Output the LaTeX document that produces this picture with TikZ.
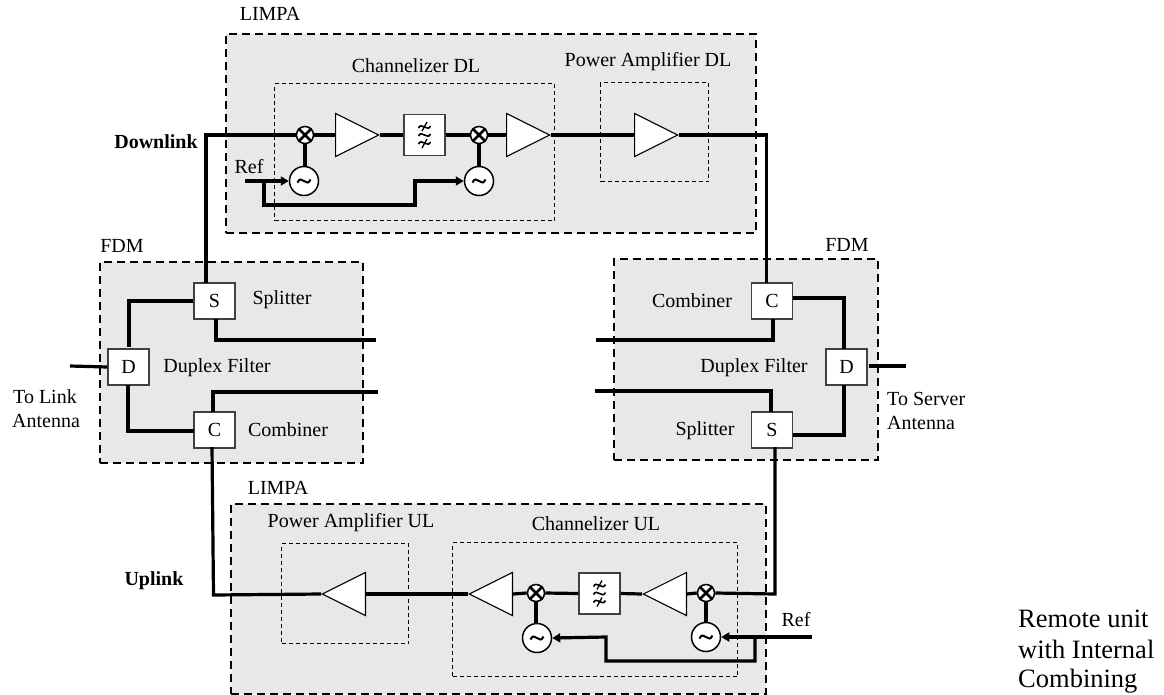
\documentclass[tikz,border=0pt]{standalone}
\usepackage{fontspec}
\setmainfont{Liberation Serif}
\usetikzlibrary{shapes.geometric,arrows.meta}
\tikzset{
  x=1pt,y=-1pt,
  lbl/.style={font=\fontsize{20}{22}\selectfont,inner sep=0,text=black},
  boldlbl/.style={font=\fontsize{20}{22}\selectfont\bfseries,inner sep=0},
  biglbl/.style={font=\fontsize{26.5}{28}\selectfont,inner sep=0,anchor=west},
  outerbox/.style={draw=black,fill=black!9,line width=2pt,dash pattern=on 8pt off 5pt,inner sep=0,anchor=north west},
  innerbox/.style={draw=black,line width=1.1pt,dash pattern=on 4pt off 3pt,inner sep=0,anchor=north west},
  blockbox/.style={draw=black!75,fill=white,line width=1.1pt,minimum width=41pt,minimum height=36pt,inner sep=0,font=\fontsize{20}{22}\selectfont},
  filterbox/.style={draw=black!75,fill=white,line width=1.1pt,minimum width=41pt,minimum height=41pt,inner sep=0},
  amp/.style={isosceles triangle,isosceles triangle stretches,draw=black,fill=white,line width=1.1pt,minimum width=43pt,minimum height=43pt,inner sep=0,anchor=lower side},
  ampl/.style={amp,shape border rotate=180},
  mixer/.style={circle,draw=black,fill=white,line width=1.5pt,minimum size=17pt,inner sep=0},
  osc/.style={circle,draw=black,fill=white,line width=1.5pt,minimum size=29pt,inner sep=0},
  wire/.style={draw=black,line width=3.2pt,line join=miter},
  awire/.style={wire,-{Triangle[length=8pt,width=9pt]}},
}
\newcommand{\xcross}[1]{\draw[line width=2.6pt] (#1.45) -- (#1.225) (#1.135) -- (#1.315);}
\newcommand{\tildeat}[1]{\draw[line width=2pt] ([xshift=-6.5pt,yshift=-1.5pt]#1.center) .. controls +(2.5,-5) and +(-3,-1) .. (#1.center) .. controls +(3,1) and +(-2.5,5) .. ([xshift=6.5pt,yshift=1.5pt]#1.center);}
\newcommand{\filtersym}[1]{%
  \foreach \dy in {-8,0,8}{%
    \draw[line width=1.6pt] ([xshift=-6pt,yshift=\dy pt-1pt]#1.center) .. controls +(2,-3.5) and +(-3,-1) .. ([yshift=\dy pt]#1.center) .. controls +(3,1) and +(-2,3.5) .. ([xshift=6pt,yshift=\dy pt+1pt]#1.center);
  }%
  \draw[line width=1.3pt] ([xshift=2.5pt,yshift=13pt]#1.center) -- ([xshift=-2.5pt,yshift=4pt]#1.center);
  \draw[line width=1.3pt] ([xshift=2.5pt,yshift=-4pt]#1.center) -- ([xshift=-2.5pt,yshift=-13pt]#1.center);
}
\begin{document}
\begin{tikzpicture}
\useasboundingbox (0,0) rectangle (1164,694);
% dashed group boxes
\node[outerbox,minimum width=530pt,minimum height=199pt] (limpadl) at (225,33) {};
\node[outerbox,minimum width=263pt,minimum height=201pt] (fdml) at (99,261) {};
\node[outerbox,minimum width=264pt,minimum height=201pt] (fdmr) at (613,258) {};
\node[outerbox,minimum width=535pt,minimum height=190pt] (limpaul) at (230,503) {};
\node[innerbox,minimum width=280pt,minimum height=137pt] (chdl) at (274,83) {};
\node[innerbox,minimum width=108pt,minimum height=99pt] (padl) at (600,82) {};
\node[innerbox,minimum width=285pt,minimum height=134pt] (chul) at (452,542) {};
\node[innerbox,minimum width=127pt,minimum height=100pt] (paul) at (281,543) {};
% downlink chain
\node[mixer] (mx1) at (305,135) {};
\node[amp] (a1) at (335,135) {};
\node[filterbox] (f1) at (424.5,135) {};
\node[mixer] (mx2) at (479,135) {};
\node[amp] (a2) at (506,135) {};
\node[amp] (a3) at (634,135) {};
\node[osc] (o1) at (304,181) {};
\node[osc] (o2) at (479,181) {};
% uplink chain
\node[ampl] (u3) at (366,594) {};
\node[ampl] (u1) at (513,594) {};
\node[mixer] (mx3) at (536,593) {};
\node[filterbox] (f2) at (599.5,593.5) {};
\node[ampl] (u2) at (687,594) {};
\node[mixer] (mx4) at (706,593) {};
\node[osc] (o3) at (537,638) {};
\node[osc] (o4) at (706,637) {};
% FDM blocks
\node[blockbox] (sl) at (214.5,301) {S};
\node[blockbox] (dl) at (128.5,367) {D};
\node[blockbox] (cl) at (214.5,430) {C};
\node[blockbox] (cr) at (772,301) {C};
\node[blockbox] (dr) at (846.5,367) {D};
\node[blockbox] (sr) at (772,430) {S};
% free ends
\coordinate (dlk) at (70,366);
\coordinate (drk) at (906,366);
\coordinate (slo) at (376,340);
\coordinate (cli) at (378,392);
\coordinate (cro) at (596,340);
\coordinate (sri) at (595,391);
\coordinate (refd) at (245,181);
\coordinate (refu) at (812,637);
% wires
\path[wire] (mx1.east) -- (a1.lower side);
\path[wire] (a1.apex) -- (f1.west);
\path[wire] (f1.east) -- (mx2.west);
\path[wire] (mx2.east) -- (a2.lower side);
\path[wire] (a2.apex) -- (a3.lower side);
\path[wire] (mx1.west) -- (206,135) -- (206,283);
\path[wire] (a3.apex) -- (766.5,135) -- (766.5,283);
\path[wire] (mx1.south) -- (mx1.south |- o1.north);
\path[wire] (mx2.south) -- (o2.north);
\path[wire] (sl.west) -- (129,301) -- (129,347);
\path[wire] (128,385) -- (128,431) -- (194,431);
\path[wire] (216,319) -- (216,340) -- (slo);
\path[wire] (213,412) -- (213,392) -- (cli);
\path[wire] (212,447) -- (213.5,595) -- (u3.apex);
\path[wire] (dlk) -- (dl.west);
\path[wire] (793,298) -- (844,298) -- (844,349);
\path[wire] (844,385) -- (844,435) -- (793,435);
\path[wire] (773,319) -- (773,340) -- (cro);
\path[wire] (771,412) -- (771,391) -- (sri);
\path[wire] (775,447) -- (775,594) -- (mx4.east);
\path[wire] (869,366) -- (drk);
\path[wire] (u3.lower side) -- (u1.apex);
\path[wire] (u1.lower side) -- (mx3.west);
\path[wire] (mx3.east) -- (f2.west);
\path[wire] (f2.east) -- (u2.apex);
\path[wire] (u2.lower side) -- (mx4.west);
\path[wire] (mx3.south) -- (mx3.south |- o3.north);
\path[wire] (mx4.south) -- (o4.north);
% reference wires
\path[awire] (refd) -- (o1.west);
\path[awire] (264,181) -- (264,205) -- (415,205) -- (415,181) -- (o2.west);
\path[awire] (refu) -- (o4.east);
\path[awire] (755,637) -- (755,661) -- (606,661) -- (606,637) -- (o3.east);
% symbols
\xcross{mx1}\xcross{mx2}\xcross{mx3}\xcross{mx4}
\tildeat{o1}\tildeat{o2}\tildeat{o3}\tildeat{o4}
\filtersym{f1}\filtersym{f2}
% labels
\node[lbl] (t1) at (270,14) {LIMPA};
\node[lbl] (t2) at (416,66) {Channelizer DL};
\node[lbl] (t3) at (648,62) {Power Amplifier DL};
\node[boldlbl] (t4) at (156,142) {Downlink};
\node[lbl] (t5) at (249,167) {Ref};
\node[lbl] (t6) at (122,246) {FDM};
\node[lbl] (t7) at (847,245) {FDM};
\node[lbl] (t8) at (282,300) {Splitter};
\node[lbl] (t9) at (217,368) {Duplex Filter};
\node[lbl] (t10) at (288,430) {Combiner};
\node[lbl,anchor=west] (t11) at (13,397) {To Link};
\node[lbl,anchor=west] (t12) at (12,421) {Antenna};
\node[lbl] (t13) at (692,301) {Combiner};
\node[lbl] (t14) at (754,368) {Duplex Filter};
\node[lbl] (t15) at (705,431) {Splitter};
\node[lbl,anchor=west] (t16) at (887,399) {To Server};
\node[lbl,anchor=west] (t17) at (887,423) {Antenna};
\node[lbl] (t18) at (278,488) {LIMPA};
\node[lbl] (t19) at (351,523) {Power Amplifier UL};
\node[lbl] (t20) at (596,524) {Channelizer UL};
\node[boldlbl] (t21) at (154,581) {Uplink};
\node[lbl] (t22) at (796,620) {Ref};
\node[biglbl] (t23) at (1018,619) {Remote unit};
\node[biglbl] (t24) at (1018,649) {with Internal};
\node[biglbl] (t25) at (1018,681) {Combining};
\end{tikzpicture}
\end{document}
